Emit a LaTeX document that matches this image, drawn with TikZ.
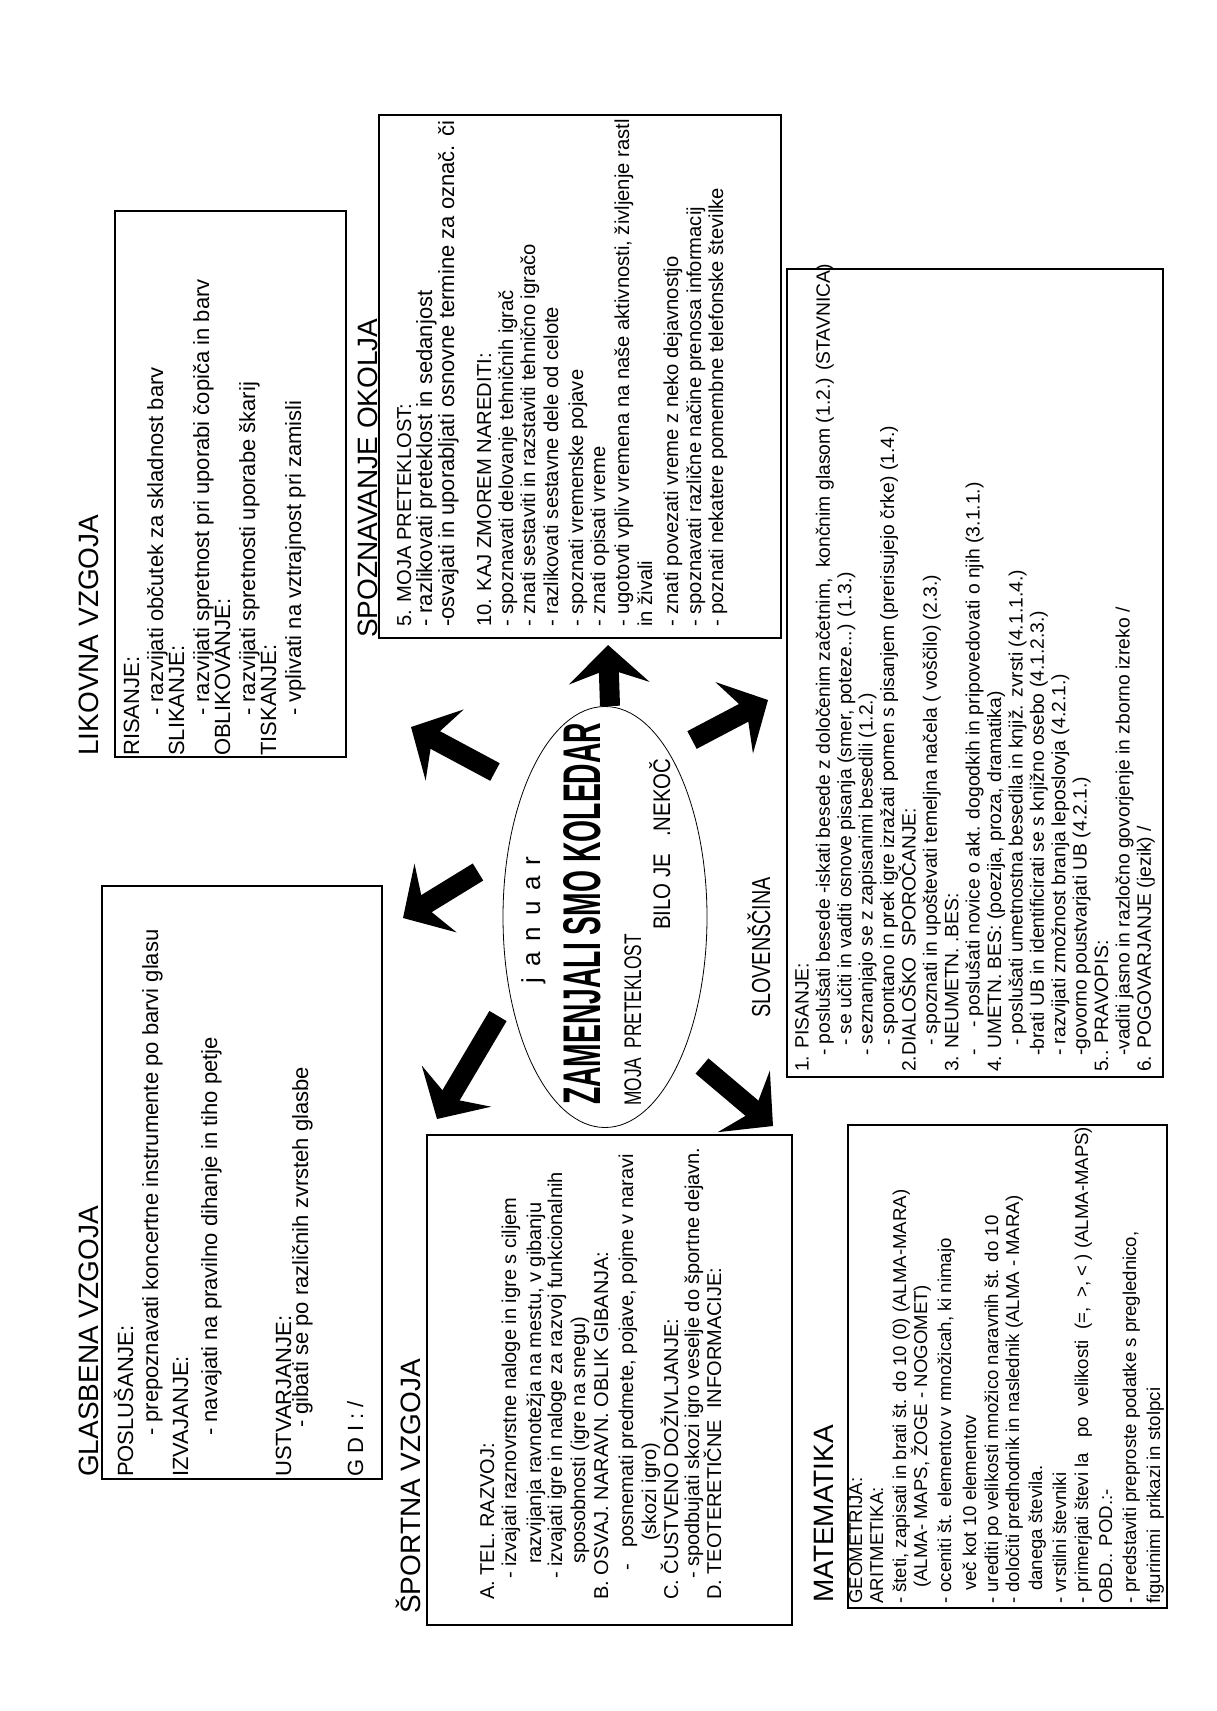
\documentclass[tikz,border=0pt]{standalone}
\usepackage{fontspec}
\setmainfont{Liberation Sans}
\newfontfamily\narrowfont{Liberation Sans}[FakeStretch=0.76]
\newfontfamily\mojafont{Liberation Sans}[FakeStretch=0.72]
\newfontfamily\bilofont{Liberation Sans}[FakeStretch=0.85]
\newfontfamily\koledarfont{Liberation Sans}[FakeStretch=0.534]
\usetikzlibrary{shapes.geometric,arrows.meta}

\tikzset{
  subjbox/.style={draw,line width=1.8pt,inner sep=0pt,outer sep=0pt},
  txt/.style={rotate=90,anchor=base west,inner sep=0pt},
  title/.style={txt,font=\fontsize{28}{28}\selectfont},
  lik/.style={txt,font=\fontsize{22}{22}\selectfont},
  spo/.style={txt,font=\fontsize{20.2}{20.2}\selectfont},
  spt/.style={txt,font=\fontsize{20}{20}\selectfont},
  mat/.style={txt,font=\fontsize{18.6}{18.6}\selectfont},
  slo/.style={txt,font=\fontsize{19.3}{19.3}\selectfont},
  bigarrow/.style={line width=20pt,-{Stealth[length=38pt,width=80pt,inset=14pt]}},
}

\begin{document}
\begin{tikzpicture}[x=1pt,y=-1pt]
\fill[white] (0,0) rectangle (1217,1711);
\useasboundingbox (0,0) rectangle (1217,1711);

\node[subjbox,minimum width=231pt,minimum height=546pt] (likovna) at (230.5,484) {};
\node[subjbox,minimum width=280pt,minimum height=593pt] (glasbena) at (242,1182.5) {};
\node[subjbox,minimum width=402pt,minimum height=523pt] (spoznavanje) at (580,376.5) {};
\node[subjbox,minimum width=365pt,minimum height=490pt] (sportna) at (609.5,1380) {};
\node[subjbox,minimum width=376pt,minimum height=808pt] (slovenscina) at (975,673) {};
\node[subjbox,minimum width=319pt,minimum height=483pt] (matematika) at (1007.5,1366.5) {};

\node[title] (likt) at (98,756) {LIKOVNA VZGOJA};
\node[title] (glat) at (98,1477) {GLASBENA VZGOJA};
\node[title] (sptt) at (420,1614) {ŠPORTNA VZGOJA};
\node[title] (spot) at (377,638) {SPOZNAVANJE OKOLJA};
\node[title] (matt) at (833,1603) {MATEMATIKA};
\node[title,font=\fontsize{26}{26}\narrowfont] (slot) at (770,1018) {SLOVENŠČINA};

\foreach \x/\y/\tx [count=\i] in {
  139/756/{RISANJE:},
  163/716/{- razvijati občutek za skladnost barv},
  184/756/{SLIKANJE:},
  209/716/{- razvijati spretnost pri uporabi čopiča in barv},
  230/756/{OBLIKOVANJE:},
  255/716/{- razvijati spretnosti uporabe škarij},
  276/756/{TISKANJE:},
  301/716/{- vplivati na vztrajnost pri zamisli}}
  {\node[lik] (lik\i) at (\x,\y) {\tx};}

\foreach \x/\y/\tx [count=\i] in {
  133/1477/{POSLUŠANJE:},
  158/1436/{- prepoznavati koncertne instrumente po barvi glasu},
  188/1477/{IZVAJANJE:},
  217/1436/{- navajati na pravilno dihanje in tiho petje},
  291/1477/{USTVARJANJE:},
  308/1428/{- gibati se po različnih zvrsteh glasbe},
  363/1477/{G D I : /}}
  {\node[lik] (gla\i) at (\x,\y) {\tx};}

\node[spo] (spo1) at (411,627) {5. MOJA PRETEKLOST:};
\foreach \x/\y/\tx [count=\i from 2] in {
  432/627/{- razlikovati preteklost in sedanjost},
  454/627/{-osvajati in uporabljati osnovne termine za označ. či}}
  {\node[lik] (spo\i) at (\x,\y) {\tx};}
\foreach \x/\y/\tx [count=\i from 4] in {
  491/627/{10. KAJ ZMOREM NAREDITI:},
  513/627/{- spoznavati delovanje tehničnih igrač},
  535/627/{- znati sestaviti in razstaviti tehnično igračo},
  558/627/{- razlikovati sestavne dele od celote},
  583/627/{- spoznati vremenske pojave},
  605/627/{- znati opisati vreme},
  629/627/{- ugotovti vpliv vremena na naše aktivnosti, življenje rastl},
  652/627/{in živali},
  678/627/{- znati povezati vreme z neko dejavnostjo},
  701/627/{- spoznavati različne načine prenosa informacij},
  723/627/{- poznati nekatere pomembne telefonske številke}}
  {\node[spo] (spo\i) at (\x,\y) {\tx};}

\foreach \x/\y/\tx [count=\i] in {
  494/1600/{A. TEL. RAZVOJ:},
  516/1579/{- izvajati raznovrstne naloge in igre s ciljem},
  541/1564/{razvijanja ravnotežja na mestu, v gibanju},
  562/1579/{- izvajati igre in naloge za razvoj funkcionalnih},
  585/1564/{sposobnosti (igre na snegu)},
  608/1600/{B. OSVAJ. NARAVN. OBLIK GIBANJA:},
  633/1571/{-\ \ \ posnemati predmete, pojave, pojme v naravi},
  656/1541/{(skozi igro)},
  678/1600/{C. ČUSTVENO DOŽIVLJANJE:},
  699/1579/{- spodbujati skozi igro veselje do športne dejavn.},
  721/1600/{D. TEOTERETIČNE\ \ INFORMACIJE:}}
  {\node[spt] (spt\i) at (\x,\y) {\tx};}

\foreach \x/\y/\tx [count=\i] in {
  862/1604/{GEOMETRIJA:},
  883/1604/{ARITMETIKA:},
  906/1604/{- šteti, zapisati in brati št. do 10 (0) (ALMA-MARA)},
  927/1588/{(ALMA- MAPS, ŽOGE - NOGOMET)},
  951/1604/{- oceniti št. elementov v množicah, ki nimajo},
  976/1591/{več kot 10 elementov},
  998/1604/{- urediti po velikosti množico naravnih št. do 10},
  1019/1604/{- določiti predhodnik in naslednik (ALMA - MARA)},
  1042/1591/{danega števila.},
  1066/1604/{- vrstilni števniki},
  1088/1604/{- primerjati števi la\ \ \ po\ \ velikosti\ \ (=,\ \ >, < ) (ALMA-MAPS)},
  1112/1604/{OBD.. POD.:-},
  1136/1604/{- predstaviti preproste podatke s preglednico,},
  1160/1604/{figurinimi\ \ prikazi in stolpci}}
  {\node[mat] (mat\i) at (\x,\y) {\tx};}

\foreach \x/\y/\tx [count=\i] in {
  808.5/1072/{1. PISANJE:},
  829.9/1056/{- poslušati besede -iskati besede z določenim začetnim,\ \ končnim glasom (1.2.) (STAVNICA)},
  851.3/1046/{- se učiti in vaditi osnove pisanja (smer, poteze...) (1.3.)},
  872.7/1056/{- seznanjajo se z zapisanimi besedili (1.2.)},
  894.1/1046/{- spontano in prek igre izražati pomen s pisanjem (prerisujejo črke) (1.4.)},
  915.5/1072/{2.DIALOŠKO\ \ SPOROČANJE:},
  936.9/1046/{- spoznati in upoštevati temeljna načela ( voščilo) (2.3.)},
  958.3/1072/{3. NEUMETN. .BES:},
  979.7/1056/{-\ \ \ \ - poslušati novice o akt. dogodkih in pripovedovati o njih (3.1.1.)},
  1001.1/1072/{4. UMETN. BES: (poezija, proza, dramatika)},
  1022.5/1046/{- poslušati umetnostna besedila in knjiž. zvrsti (4.1.1.4.)},
  1043.9/1056/{-brati UB in identificirati se s knjižno osebo (4.1.2.3.)},
  1065.3/1056/{- razvijati zmožnost branja leposlovja (4.2.1.)},
  1086.7/1056/{-govorno poustvarjati UB (4.2.1.)},
  1108.1/1072/{5.. PRAVOPIS:},
  1129.5/1056/{-vaditi jasno in razločno govorjenje in zborno izreko /},
  1150.9/1072/{6. POGOVARJANJE (jezik) /}}
  {\node[slo] (slo\i) at (\x,\y) {\tx};}

\node[draw,ellipse,line width=0.8pt,minimum width=204pt,minimum height=421pt,inner sep=0pt] (kol) at (605,917) {};
\node[rotate=90,anchor=base,inner sep=0pt,font=\fontsize{26}{26}\selectfont] (jan) at (540,920) {\spaceskip=11pt j a n u a r};
\node[txt,font=\fontsize{53}{53}\koledarfont\bfseries] (zam) at (600,1105) {ZAMENJALI SMO KOLEDAR};
\node[txt,font=\fontsize{24}{24}\mojafont] (moja) at (641,1106) {MOJA\ \ PRETEKLOST};
\node[txt,font=\fontsize{24}{24}\bilofont] (bilo) at (670,930) {BILO JE\ \ \ .NEKOČ};

\coordinate (a1s) at (495,772); \coordinate (a1e) at (411,727);
\coordinate (a2s) at (478,872); \coordinate (a2e) at (403,918);
\coordinate (a3s) at (498,1016); \coordinate (a3e) at (437,1119);
\coordinate (a4s) at (610,706); \coordinate (a4e) at (608,645);
\coordinate (a5s) at (692,740); \coordinate (a5e) at (768,700);
\coordinate (a6s) at (702,1066); \coordinate (a6e) at (773,1126);
\foreach \n in {1,...,6}
  \draw[bigarrow] (a\n s) -- (a\n e);

\end{tikzpicture}
\end{document}
